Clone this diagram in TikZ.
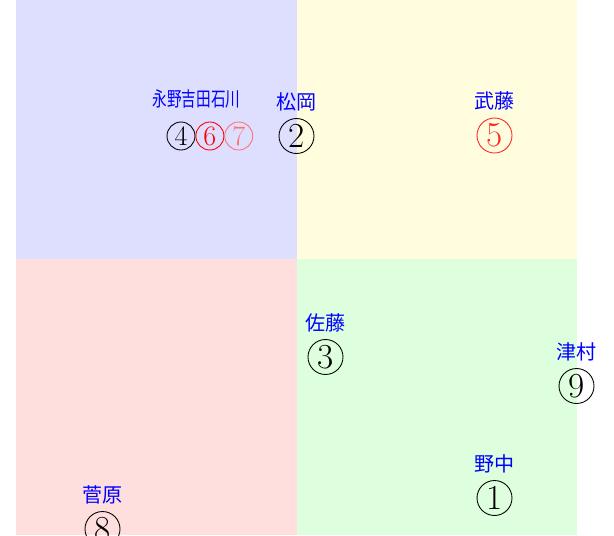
\documentclass[tikz,border=0pt]{standalone}
\usepackage{fontspec}
\newfontfamily\jpfont{Noto Sans CJK JP}
\usetikzlibrary{positioning}

\tikzset{
  member/.style={circle,draw,inner sep=0pt,minimum size=0.7cm,line width=0.5pt,
    font=\fontsize{20}{20}\selectfont},
  smallmember/.style={member,minimum size=0.56cm,font=\fontsize{16}{16}\selectfont},
  membername/.style={blue,inner sep=0pt,font=\jpfont\fontsize{11.4}{12}\selectfont}
}

\begin{document}
\begin{tikzpicture}[x=0.02cm,y=0.02cm]
                \useasboundingbox (-297,-276) rectangle (317,259);
                \fill[blue!13] (-281,0) rectangle (0,259);
                \fill[yellow!13] (0,0) rectangle (280,259);
                \fill[red!13] (-281,-276) rectangle (0,0);
                \fill[green!13] (0,-276) rectangle (280,0);
                \node[member] (nonaka) at (197.5,-239) {1};
                \node[membername,above=0.14cm of nonaka] {野中};
                \node[member] (matsuoka) at (-0.5,123) {2};
                \node[membername,above=0.14cm of matsuoka] {松岡};
                \node[member] (sato) at (28.5,-98) {3};
                \node[membername,above=0.14cm of sato] {佐藤};
                \node[member,red!85] (muto) at (197.5,123.5) {5};
                \node[membername,above=0.14cm of muto] {武藤};
                \node[member] (sugawara) at (-194.5,-270) {8};
                \node[membername,above=0.14cm of sugawara] {菅原};
                \node[member] (tsumura) at (279.5,-127) {9};
                \node[membername,above=0.14cm of tsumura] {津村};
                \node[smallmember] (nagano) at (-116,123) {4};
                \node[smallmember,red,right=0pt of nagano] (yoshida) {6};
                \node[smallmember,red!55,right=0pt of yoshida] (ishikawa) {7};
                \node[membername,xscale=0.73,transform shape] (group) at (-100.5,160) {永野吉田石川};
            \end{tikzpicture}
\end{document}
